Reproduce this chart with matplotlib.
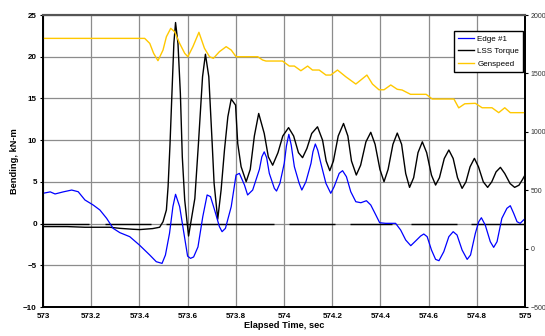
import matplotlib
matplotlib.use("Agg")
import matplotlib.pyplot as plt

plt.rcParams['font.family'] = ['Liberation Sans', 'DejaVu Sans']

# Edge #1 bending, kN-m
edge_t = [573.0, 573.03, 573.05, 573.084, 573.119, 573.146, 573.174, 573.208, 573.236, 573.264,
          573.291, 573.319, 573.36, 573.40, 573.443, 573.47, 573.494, 573.508, 573.525, 573.539,
          573.55, 573.567, 573.587, 573.60, 573.612, 573.625, 573.643, 573.663, 573.681, 573.695,
          573.712, 573.732, 573.743, 573.757, 573.781, 573.801, 573.815, 573.836, 573.849, 573.87,
          573.898, 573.908, 573.918, 573.928, 573.939, 573.96, 573.969, 573.983, 574.001, 574.01,
          574.02, 574.03, 574.043, 574.063, 574.074, 574.091, 574.112, 574.12, 574.13, 574.14,
          574.153, 574.174, 574.194, 574.208, 574.229, 574.243, 574.259, 574.277, 574.298, 574.319,
          574.342, 574.36, 574.381, 574.397, 574.422, 574.463, 574.484, 574.505, 574.526, 574.546,
          574.567, 574.58, 574.594, 574.612, 574.629, 574.643, 574.663, 574.684, 574.702, 574.718,
          574.739, 574.76, 574.774, 574.794, 574.808, 574.819, 574.835, 574.856, 574.87, 574.884,
          574.904, 574.925, 574.939, 574.953, 574.967, 574.98, 575.0]
edge_v = [3.63, 3.8, 3.55, 3.8, 4.02, 3.82, 2.83, 2.23, 1.63, 0.63,
          -0.57, -1.09, -1.57, -2.57, -3.77, -4.57, -4.77, -3.77, -1.17, 2.03,
          3.51, 2.03, -1.57, -3.9, -4.17, -4.0, -2.8, 0.83, 3.43, 3.23,
          1.63, -0.37, -0.97, -0.57, 2.03, 5.82, 6.02, 4.62, 3.43, 4.02,
          6.5, 8.0, 8.6, 7.9, 6.02, 4.22, 3.9, 4.82, 7.22, 9.3,
          10.7, 9.4, 6.82, 4.82, 4.02, 5.02, 7.22, 8.6, 9.54, 8.8,
          7.22, 4.82, 3.63, 4.42, 6.02, 6.34, 5.62, 3.82, 2.62, 2.5,
          2.74, 2.23, 1.03, 0.1, 0.03, 0.03, -0.77, -1.97, -2.65, -2.09,
          -1.49, -1.25, -1.57, -3.17, -4.29, -4.45, -3.37, -1.57, -0.97, -1.37,
          -3.17, -4.29, -3.77, -1.17, 0.22, 0.7, -0.17, -2.17, -2.85, -2.17,
          0.63, 1.83, 2.14, 1.23, 0.22, 0.03, 0.6]

# LSS Torque
torque_t = [573.0, 573.1, 573.174, 573.277, 573.319, 573.372, 573.401, 573.455, 573.484, 573.498,
            573.512, 573.519, 573.527, 573.535, 573.543, 573.55, 573.56, 573.57, 573.578, 573.588,
            573.604, 573.63, 573.645, 573.662, 573.674, 573.688, 573.702, 573.71, 573.725, 573.739,
            573.753, 573.767, 573.781, 573.799, 573.808, 573.822, 573.843, 573.86, 573.877, 573.895,
            573.918, 573.935, 573.953, 573.975, 573.995, 574.019, 574.04, 574.06, 574.077, 574.095,
            574.115, 574.139, 574.16, 574.175, 574.19, 574.205, 574.225, 574.247, 574.265, 574.28,
            574.3, 574.318, 574.34, 574.36, 574.378, 574.398, 574.415, 574.432, 574.452, 574.47,
            574.488, 574.505, 574.521, 574.538, 574.556, 574.574, 574.592, 574.612, 574.629, 574.645,
            574.665, 574.684, 574.702, 574.72, 574.739, 574.755, 574.772, 574.79, 574.807, 574.827,
            574.845, 574.862, 574.88, 574.898, 574.916, 574.938, 574.957, 574.975, 574.99, 575.0]
torque_v = [-0.36, -0.36, -0.44, -0.44, -0.57, -0.68, -0.72, -0.6, -0.44, 0.22,
            1.63, 4.42, 9.5, 15.6, 21.6, 24.1, 21.6, 15.6, 8.0, 2.83,
            -1.49, 3.0, 9.6, 17.6, 20.3, 17.6, 9.6, 4.8, 0.52, 4.02,
            8.82, 12.8, 14.93, 14.2, 9.6, 6.82, 5.02, 6.5, 10.5, 13.2,
            10.8, 8.0, 7.0, 8.5, 10.5, 11.5, 10.5, 8.5, 7.9, 9.0,
            10.8, 11.6, 10.0, 7.5, 6.34, 7.5, 10.5, 12.0, 10.5, 7.5,
            5.82, 7.0, 9.8, 10.94, 9.5, 6.5, 5.02, 6.5, 9.5, 10.85,
            9.5, 6.0, 4.34, 5.5, 8.5, 9.8, 8.5, 5.8, 4.62, 5.5,
            7.8, 8.82, 7.8, 5.5, 4.22, 5.0, 6.8, 7.82, 6.8, 5.0,
            4.34, 5.0, 6.2, 6.74, 6.0, 4.8, 4.34, 4.6, 5.3, 5.82]

# Genspeed (right axis)
gen_t = [573.0, 573.422, 573.443, 573.459, 573.477, 573.498, 573.512, 573.53, 573.546, 573.567,
         573.588, 573.601, 573.622, 573.647, 573.67, 573.691, 573.707, 573.732, 573.76, 573.781,
         573.801, 573.891, 573.911, 573.925, 573.994, 574.022, 574.043, 574.07, 574.098, 574.118,
         574.146, 574.174, 574.194, 574.222, 574.256, 574.298, 574.319, 574.344, 574.367, 574.394,
         574.415, 574.443, 574.47, 574.49, 574.525, 574.59, 574.615, 574.705, 574.725, 574.75,
         574.794, 574.822, 574.863, 574.891, 574.916, 574.939, 575.0]
gen_v = [1800, 1800, 1757, 1672, 1609, 1700, 1814, 1886, 1857, 1757,
         1672, 1643, 1729, 1852, 1715, 1643, 1629, 1686, 1729, 1700,
         1643, 1643, 1615, 1606, 1606, 1563, 1563, 1523, 1563, 1529,
         1529, 1486, 1486, 1529, 1472, 1409, 1444, 1486, 1409, 1360,
         1360, 1401, 1364, 1358, 1321, 1321, 1281, 1281, 1205, 1240,
         1244, 1206, 1206, 1164, 1206, 1164, 1164]

# broken zero line segments (start, end)
zero_start = [573.0, 573.257, 573.512, 573.998, 574.019, 574.273, 574.525, 574.778]
zero_end = [573.19, 573.45, 573.96, 574.001, 574.212, 574.45, 574.718, 574.994]

x_ticks = [573, 573.2, 573.4, 573.6, 573.8, 574, 574.2, 574.4, 574.6, 574.8, 575]
x_labels = ["573", "573.2", "573.4", "573.6", "573.8", "574", "574.2", "574.4", "574.6", "574.8", "575"]
y_ticks = [-10, -5, 0, 5, 10, 15, 20, 25]
y2_ticks = [-500, 0, 500, 1000, 1500, 2000]

fig = plt.figure(figsize=(5.45, 3.36), dpi=100)
ax = fig.add_axes([0.0789, 0.0863, 0.8844, 0.869])
ax2 = ax.twinx()

ax.grid(True, color="#8c8c8c", linewidth=0.9)
ax.set_axisbelow(True)
ax.hlines([0] * len(zero_start), zero_start, zero_end, color="black", linewidth=1.0, zorder=2)
l2, = ax.plot(torque_t, torque_v, color="black", linewidth=1.0, label="LSS Torque", zorder=3)
l1, = ax.plot(edge_t, edge_v, color="#0000ff", linewidth=0.9, label="Edge #1", zorder=4)
l3, = ax2.plot(gen_t, gen_v, color="#ffc800", linewidth=1.0, label="Genspeed")

ax.set_xlim(573, 575)
ax.set_ylim(-10, 25)
ax2.set_ylim(-500, 2000)
ax.set_xticks(x_ticks)
ax.set_xticklabels(x_labels)
ax.set_yticks(y_ticks)
ax2.set_yticks(y2_ticks)

ax.tick_params(axis="both", labelsize=5.8, length=2.5, width=0.8, pad=2)
ax.tick_params(axis="x", length=0, pad=4)
for lab in ax.get_xticklabels() + ax.get_yticklabels():
    lab.set_fontweight("bold")
ax2.tick_params(axis="y", labelsize=5, length=2.5, width=0.8, pad=1.5, labelcolor="#333333")

ax.set_xlabel("Elapsed Time, sec", fontsize=6.7, fontweight="bold", labelpad=1)
ax.set_ylabel("Bending, kN-m", fontsize=6.7, fontweight="bold", labelpad=3)

for a in (ax, ax2):
    a.spines["top"].set_color("#555555")
    a.spines["top"].set_linewidth(1.5)
    a.spines["left"].set_linewidth(1.3)
    a.spines["bottom"].set_linewidth(1.3)
    a.spines["right"].set_linewidth(1.3)

leg = ax2.legend([l1, l2, l3], ["Edge #1", "LSS Torque", "Genspeed"], loc="upper right",
                 bbox_to_anchor=(0.996, 0.945), borderaxespad=0, fontsize=5.8,
                 fancybox=False, framealpha=1, edgecolor="black", handlelength=2.0,
                 labelspacing=0.6, borderpad=0.5, handletextpad=0.4)
leg.get_frame().set_linewidth(1.0)

fig.savefig("out.png", dpi=100)
